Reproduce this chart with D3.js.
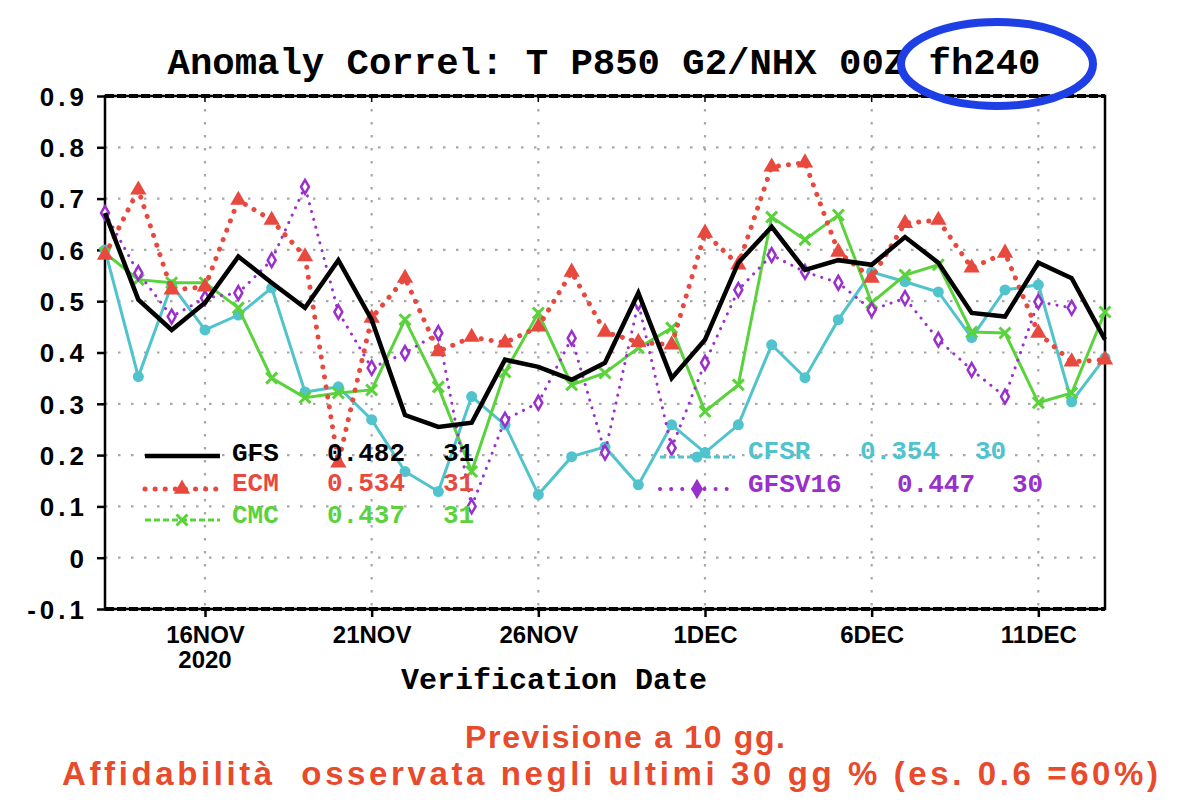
<!DOCTYPE html>
<html>
<head>
<meta charset="utf-8">
<script src="https://cdn.jsdelivr.net/npm/d3@7"></script>
<style>
  html, body { margin: 0; padding: 0; background: #fff; }
  svg { display: block; }
</style>
</head>
<body>
<svg id="chart" width="1200" height="800"></svg>
<script>
// ---------------- DATA ----------------
const dates = ["2020-11-13","2020-11-14","2020-11-15","2020-11-16","2020-11-17","2020-11-18","2020-11-19",
  "2020-11-20","2020-11-21","2020-11-22","2020-11-23","2020-11-24","2020-11-25","2020-11-26","2020-11-27",
  "2020-11-28","2020-11-29","2020-11-30","2020-12-01","2020-12-02","2020-12-03","2020-12-04","2020-12-05",
  "2020-12-06","2020-12-07","2020-12-08","2020-12-09","2020-12-10","2020-12-11","2020-12-12","2020-12-13"];

const gfs    = [0.672,0.503,0.444,0.497,0.587,0.536,0.487,0.580,0.464,0.278,0.255,0.263,0.386,0.372,0.347,0.380,0.516,0.350,0.425,0.575,0.645,0.561,0.580,0.571,0.625,0.575,0.477,0.470,0.575,0.545,0.425];
const ecm    = [0.590,0.717,0.522,0.528,0.697,0.658,0.587,0.185,0.467,0.545,0.402,0.430,0.419,0.450,0.557,0.440,0.420,0.415,0.633,0.571,0.762,0.770,0.596,0.545,0.652,0.658,0.565,0.594,0.438,0.382,0.386];
const cmc    = [0.594,0.542,0.536,0.536,0.487,0.350,0.312,0.321,0.327,0.464,0.333,0.168,0.362,0.477,0.337,0.360,0.409,0.448,0.285,0.337,0.664,0.620,0.668,0.497,0.551,0.571,0.440,0.438,0.302,0.321,0.479];
const cfsr   = [0.600,0.353,0.532,0.444,0.473,0.526,0.323,0.333,0.269,0.168,0.129,0.314,0.259,0.123,0.197,0.216,0.142,0.259,0.205,0.259,0.415,0.351,0.464,0.557,0.538,0.518,0.429,0.522,0.532,0.304,0.390];
const gfsv16 = [0.672,0.555,0.470,0.506,0.516,0.580,0.723,0.479,0.370,0.399,0.438,0.100,0.269,0.302,0.428,0.205,0.497,0.214,0.380,0.522,0.590,0.557,0.536,0.483,0.506,0.425,0.366,0.314,0.499,0.487,null];

const seriesNames  = ["GFS","ECM","CMC","CFSR","GFSV16"];
const seriesScores = ["0.482","0.534","0.437","0.354","0.447"];
const seriesCounts = ["31","31","31","30","30"];

const xTickDates  = ["2020-11-16","2020-11-21","2020-11-26","2020-12-01","2020-12-06","2020-12-11"];
const xTickLabels = ["16NOV","21NOV","26NOV","1DEC","6DEC","11DEC"];
const yTicks      = [-0.1,0,0.1,0.2,0.3,0.4,0.5,0.6,0.7,0.8,0.9];
const yTickLabels = ["-0.1","0","0.1","0.2","0.3","0.4","0.5","0.6","0.7","0.8","0.9"];

const titleText = "Anomaly Correl: T P850 G2/NHX 00Z fh240";
const xTitle = "Verification Date";
const yearLabel = "2020";
const note1 = "Previsione a 10 gg.";
const note2 = "Affidabilità  osservata negli ultimi 30 gg % (es. 0.6 =60%)";

// ---------------- LAYOUT ----------------
const parse = d3.utcParse("%Y-%m-%d");
const X0 = 105, X1 = 1105, Y0 = 96, Y1 = 609;
const svg = d3.select("#chart");

const x = d3.scaleUtc().domain([parse(dates[0]), parse(dates[dates.length-1])]).range([X0, X1]);
const y = d3.scaleLinear().domain([-0.1, 0.9]).range([Y1, Y0]);

const COL = { GFS:"#000000", ECM:"#e8493f", CMC:"#5ad23c", CFSR:"#50c3cd", GFSV16:"#9a30cc" };
const SANS = "Liberation Sans, Arial, sans-serif";

// grid
const grid = svg.append("g");
grid.selectAll("line.h").data(yTicks.filter(v => v > -0.1 && v < 0.9)).join("line")
  .attr("x1", X0).attr("x2", X1).attr("y1", d => y(d)).attr("y2", d => y(d))
  .attr("stroke", "#a8a8a8").attr("stroke-width", 2.2).attr("stroke-dasharray", "2.5 10.5");
grid.selectAll("line.v").data(xTickDates).join("line")
  .attr("x1", d => x(parse(d))).attr("x2", d => x(parse(d))).attr("y1", Y0).attr("y2", Y1)
  .attr("stroke", "#a8a8a8").attr("stroke-width", 2.2).attr("stroke-dasharray", "2.5 10.5");

// axes
const yAxis = d3.axisLeft(y).tickValues(yTicks).tickSize(8).tickPadding(9)
  .tickFormat((d,i) => yTickLabels[i]);
const gy = svg.append("g").attr("transform", `translate(${X0},0)`).call(yAxis);
gy.select(".domain").remove();
gy.selectAll(".tick line").attr("stroke", "#000").attr("stroke-width", 2.5);
gy.selectAll(".tick text").attr("font-family", SANS)
  .attr("font-weight", "bold").attr("font-size", 26).attr("letter-spacing", 4).attr("fill", "#000")
  .attr("dy", "0.36em");

const xAxis = d3.axisBottom(x).tickValues(xTickDates.map(parse)).tickSize(8).tickPadding(6)
  .tickFormat((d,i) => xTickLabels[i]);
const gx = svg.append("g").attr("transform", `translate(0,${Y1})`).call(xAxis);
gx.select(".domain").remove();
gx.selectAll(".tick line").attr("stroke", "#000").attr("stroke-width", 2.5);
gx.selectAll(".tick text").attr("font-family", SANS)
  .attr("font-weight", "bold").attr("font-size", 24).attr("fill", "#000").attr("dy", "0.85em");

// small inward ticks at top
svg.append("g").selectAll("line").data(xTickDates).join("line")
  .attr("x1", d => x(parse(d))).attr("x2", d => x(parse(d))).attr("y1", Y0).attr("y2", Y0 + 6)
  .attr("stroke", "#000").attr("stroke-width", 1.5);

// frame
svg.append("rect").attr("x", X0).attr("y", Y0).attr("width", X1 - X0).attr("height", Y1 - Y0)
  .attr("fill", "none").attr("stroke", "#000").attr("stroke-width", 2.5);
[Y0, Y1].forEach(yy => svg.append("line").attr("x1", X0).attr("x2", X1).attr("y1", yy).attr("y2", yy)
  .attr("stroke", "#000").attr("stroke-width", 4).attr("stroke-dasharray", "9 3"));

// series
const line = d3.line().defined(d => d.v !== null).x(d => x(d.t)).y(d => y(d.v));
const toPts = arr => arr.map((v,i) => ({ t: parse(dates[i]), v }));
const plot = svg.append("g");

function drawSeries(arr, color, width, dash, cap) {
  plot.append("path").datum(toPts(arr)).attr("d", line).attr("fill", "none")
    .attr("stroke", color).attr("stroke-width", width).attr("stroke-linejoin", "miter")
    .attr("stroke-linecap", cap || "butt").attr("stroke-dasharray", dash || null);
}
function drawMarkers(arr, type, size, fill, stroke, sw) {
  plot.append("g").selectAll("path").data(toPts(arr).filter(d => d.v !== null)).join("path")
    .attr("transform", d => `translate(${x(d.t)},${y(d.v)})`)
    .attr("d", d3.symbol(type, size)).attr("fill", fill).attr("stroke", stroke).attr("stroke-width", sw);
}

drawSeries(cfsr, COL.CFSR, 3, null);
drawMarkers(cfsr, d3.symbolCircle, 95, COL.CFSR, "none", 0);
drawSeries(cmc, COL.CMC, 3, null);
drawMarkers(cmc, d3.symbolX, 80, "none", COL.CMC, 3);
drawSeries(gfsv16, COL.GFSV16, 3, "0.1 8", "round");
drawMarkers(gfsv16, d3.symbolDiamond, 55, "#fff", COL.GFSV16, 2.5);
drawSeries(ecm, COL.ECM, 5, "0.1 10", "round");
drawMarkers(ecm, d3.symbolTriangle, 115, COL.ECM, "none", 0);
drawSeries(gfs, COL.GFS, 4.5, null);

// legend
const LF = "Liberation Mono, DejaVu Sans Mono, monospace";
const legend = svg.append("g");
const leg = [
  { name: 0, xs: 145, xe: 220, ly: 456, mx: 182, tx: [232, 327, 443], ty: 461 },
  { name: 1, xs: 145, xe: 220, ly: 489, mx: 182, tx: [232, 327, 443], ty: 491 },
  { name: 2, xs: 145, xe: 220, ly: 520, mx: 182, tx: [232, 327, 443], ty: 523 },
  { name: 3, xs: 660, xe: 735, ly: 457, mx: 697, tx: [748, 860, 975], ty: 459 },
  { name: 4, xs: 660, xe: 730, ly: 489, mx: 697, tx: [748, 897, 1012], ty: 492 }
];
const legStyle = [
  { w: 4.5, dash: null, cap: "butt", sym: null },
  { w: 5, dash: "0.1 10", cap: "round", sym: d3.symbolTriangle, size: 115, fill: COL.ECM, stroke: "none", sw: 0 },
  { w: 3, dash: "6 3", cap: "butt", sym: d3.symbolX, size: 80, fill: "none", stroke: COL.CMC, sw: 3 },
  { w: 3, dash: "6 3", cap: "butt", sym: d3.symbolCircle, size: 95, fill: COL.CFSR, stroke: "none", sw: 0 },
  { w: 4, dash: "0.1 11", cap: "round", sym: d3.symbolDiamond, size: 80, fill: COL.GFSV16, stroke: COL.GFSV16, sw: 2 }
];
leg.forEach(L => {
  const nm = seriesNames[L.name], c = COL[nm], s = legStyle[L.name];
  legend.append("line").attr("x1", L.xs).attr("x2", L.xe).attr("y1", L.ly).attr("y2", L.ly)
    .attr("stroke", c).attr("stroke-width", s.w).attr("stroke-dasharray", s.dash).attr("stroke-linecap", s.cap);
  if (s.sym) legend.append("path").attr("transform", `translate(${L.mx},${L.ly})`)
    .attr("d", d3.symbol(s.sym, s.size)).attr("fill", s.fill).attr("stroke", s.stroke).attr("stroke-width", s.sw);
  [nm, seriesScores[L.name], seriesCounts[L.name]].forEach((t, k) => {
    legend.append("text").attr("x", L.tx[k]).attr("y", L.ty).text(t)
      .attr("font-family", LF).attr("font-weight", "bold").attr("font-size", 26).attr("fill", c);
  });
});

// titles
svg.append("text").attr("x", 604).attr("y", 74).attr("text-anchor", "middle").text(titleText)
  .attr("font-family", LF).attr("font-weight", "bold").attr("font-size", 37.3).attr("fill", "#000");
svg.append("text").attr("x", 205).attr("y", 668).attr("text-anchor", "middle").text(yearLabel)
  .attr("font-family", SANS).attr("font-weight", "bold").attr("font-size", 24);
svg.append("text").attr("x", 554).attr("y", 689).attr("text-anchor", "middle").text(xTitle)
  .attr("font-family", LF).attr("font-weight", "bold").attr("font-size", 30).attr("fill", "#000");

// annotation ellipse
svg.append("ellipse").attr("cx", 997).attr("cy", 64).attr("rx", 96).attr("ry", 42)
  .attr("fill", "none").attr("stroke", "#1e3ee6").attr("stroke-width", 8);

// notes
svg.append("text").attr("x", 625).attr("y", 748).attr("text-anchor", "middle").text(note1)
  .attr("font-family", SANS).attr("font-weight", "bold")
  .attr("font-size", 32).attr("textLength", 320).attr("lengthAdjust", "spacing").attr("fill", "#e84a2c");
svg.append("text").attr("x", 610).attr("y", 785).attr("text-anchor", "middle").text(note2)
  .attr("font-family", SANS).attr("font-weight", "bold")
  .attr("font-size", 33).attr("textLength", 1096).attr("lengthAdjust", "spacing")
  .attr("fill", "#e84a2c").style("white-space", "pre");
</script>
</body>
</html>
